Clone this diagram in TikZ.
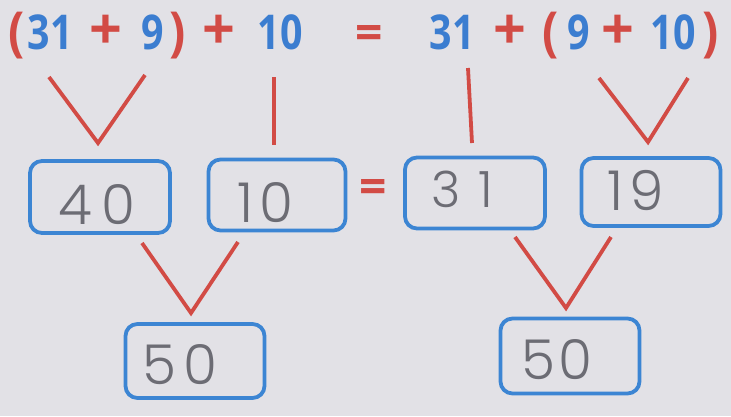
\documentclass[tikz,border=0pt]{standalone}
\usepackage{fontspec}
\setmainfont{Open Sans}
\newfontfamily\printfont{Open Sans}
\newfontfamily\handfont{Poppins Light}
\definecolor{paper}{HTML}{E2E1E6}
\definecolor{pblue}{HTML}{3B7DD0}
\definecolor{bblue}{HTML}{3C85D3}
\definecolor{pred}{HTML}{D24B45}
\definecolor{pencil}{HTML}{6C6C74}
\newcommand\nar[1]{\scalebox{0.82}[1]{#1}}
\newcommand\bigplus{\scalebox{1.2}{+}}
\newcommand\tallp[1]{\scalebox{1}[1.12]{#1}}
\begin{document}
\begin{tikzpicture}[x=1pt,y=-1pt,
  tok/.style={inner sep=0pt, anchor=base, font=\printfont\bfseries\fontsize{48}{48}\selectfont},
  num/.style={tok, text=pblue},
  op/.style={tok, text=pred},
  redline/.style={draw=pred, line width=3.8pt, line join=miter},
  box/.style={draw=bblue, line width=3.8pt, rounded corners=12pt, inner sep=0pt},
  hw/.style={text=pencil, inner sep=0pt, font=\handfont\fontsize{55}{55}\selectfont},
  hwsmall/.style={hw, font=\handfont\fontsize{50}{50}\selectfont}]
\fill[paper] (0,0) rectangle (731,416);
\useasboundingbox (0,0) rectangle (731,416);
% top equation
\node[op]  (lp1) at (17,50) {\tallp{(}};
\node[num] (a31) at (50,49) {\nar{31}};
\node[op]  (pl1) at (106,49) {\bigplus};
\node[num] (a9)  at (153,49) {\nar{9}};
\node[op]  (rp1) at (178,50) {\tallp{)}};
\node[op]  (pl2) at (219,49) {\bigplus};
\node[num] (a10) at (280,49) {\nar{10}};
\node[op]  (eq1) at (369,49) {=};
\node[num] (b31) at (452,49) {\nar{31}};
\node[op]  (pl3) at (510,49) {\bigplus};
\node[op]  (lp2) at (551,50) {\tallp{(}};
\node[num] (b9)  at (579,49) {\nar{9}};
\node[op]  (pl4) at (618,49) {\bigplus};
\node[num] (b10) at (673,49) {\nar{10}};
\node[op]  (rp2) at (711,50) {\tallp{)}};
% first-level connectors
\coordinate (v1a) at (49,77);  \coordinate (v1b) at (98,143);  \coordinate (v1c) at (145,75);
\coordinate (l1a) at (274,77); \coordinate (l1b) at (274,145);
\coordinate (l2a) at (468,68); \coordinate (l2b) at (472,143);
\coordinate (v2a) at (599,78); \coordinate (v2b) at (648,142); \coordinate (v2c) at (688,78);
\draw[redline] (v1a) -- (v1b) -- (v1c);
\draw[redline] (l1a) -- (l1b);
\draw[redline] (l2a) -- (l2b);
\draw[redline] (v2a) -- (v2b) -- (v2c);
% boxes
\node[box, minimum width=140pt, minimum height=72pt] (bx40) at (100,197) {};
\node[box, minimum width=137pt, minimum height=71pt] (bx10) at (277,195) {};
\node[op] (eq2) at (373,203) {=};
\node[box, minimum width=140pt, minimum height=71pt] (bx31) at (475,193) {};
\node[box, minimum width=139pt, minimum height=68pt] (bx19) at (651,192) {};
\node[box, minimum width=139pt, minimum height=74pt] (bx50a) at (195,361) {};
\node[box, minimum width=139pt, minimum height=75pt] (bx50b) at (570,356) {};
% handwriting
\node[hw] (h40) at (97,205) {4\hspace{10pt}0};
\node[hw] (h10) at (265,203) {1\hspace{6pt}0};
\node[hwsmall] (h31) at (462,189) {3\hspace{18pt}1};
\node[hw] (h19) at (636,191) {1\hspace{6pt}9};
\node[hw] (h50a) at (180,365) {5\hspace{7pt}0};
\node[hw] (h50b) at (557,360) {5\hspace{4pt}0};
% second-level connectors
\coordinate (w1a) at (142,243); \coordinate (w1b) at (191,313); \coordinate (w1c) at (238,242);
\coordinate (w2a) at (515,237); \coordinate (w2b) at (566,308); \coordinate (w2c) at (611,237);
\draw[redline] (w1a) -- (w1b) -- (w1c);
\draw[redline] (w2a) -- (w2b) -- (w2c);
\end{tikzpicture}
\end{document}
